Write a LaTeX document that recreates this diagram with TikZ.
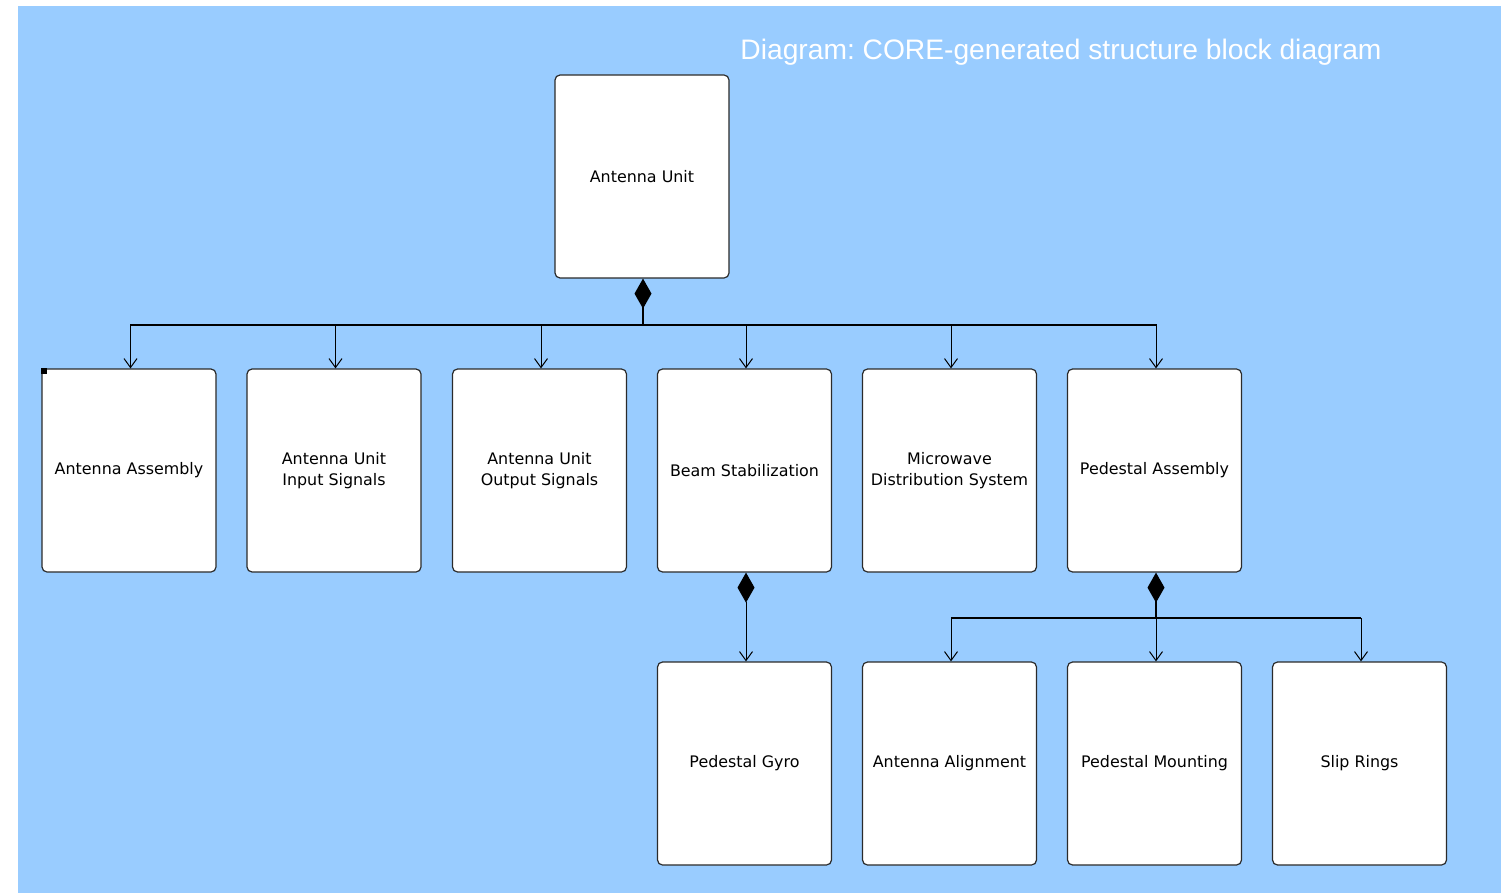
\documentclass[tikz,border=0pt]{standalone}
\usepackage{fontspec}
\setmainfont{DejaVu Sans}
\newfontfamily\titlefont{Liberation Sans}
\usetikzlibrary{arrows.meta}
\definecolor{bg}{HTML}{99CCFF}
\definecolor{edge}{HTML}{2B2B2B}
\frenchspacing

\begin{document}
\begin{tikzpicture}[x=1pt, y=-1pt,
  block/.style={draw=edge, line width=1.2pt, fill=white, rounded corners=5pt,
    minimum width=174pt, minimum height=203pt, inner sep=0pt, align=center,
    font=\fontsize{15.9}{21}\selectfont},
  part/.style={line width=1.6pt, {Diamond[length=30pt,width=17pt]}-},
  sub/.style={line width=1pt, -{Straight Barb[length=9pt,width=13pt]}},
  partsub/.style={line width=1pt, {Diamond[length=30pt,width=17pt]}-{Straight Barb[length=9pt,width=13pt]}}]
\useasboundingbox (0,0) rectangle (1501,893);
\fill[bg] (18,6) rectangle (1501,893);

\node[text=white, font=\titlefont\fontsize{28.2}{33}\selectfont] (title) at (1061,52)
  {Diagram: CORE-generated structure block diagram};

% top
\node[block] (u) at (642,176.5) {Antenna Unit};

% first level
\node[block] (a) at (129,470.5) {Antenna Assembly};
\node[block] (b) at (334,470.5) {Antenna Unit\\Input Signals};
\node[block] (c) at (539.5,470.5) {Antenna Unit\\Output Signals};
\node[block] (d) at (744.5,470.5) {Beam Stabilization};
\node[block] (e) at (949.5,470.5) {Microwave\\Distribution System};
\node[block] (f) at (1154.5,470.5) {Pedestal Assembly};
\fill (a.north west) rectangle ++(6,6);

% second level
\node[block] (g) at (744.5,763.5) {Pedestal Gyro};
\node[block] (h) at (949.5,763.5) {Antenna Alignment};
\node[block] (i) at (1154.5,763.5) {Pedestal Mounting};
\node[block] (j) at (1359.5,763.5) {Slip Rings};

% composition
\coordinate (b1) at (643,325);
\draw[part] (u.south -| b1) -- (b1);
\draw[line width=1.6pt] ([xshift=1pt]a.north |- b1) -- ([xshift=2pt]f.north |- b1);
\foreach \n in {a,b,c,d,e,f}
  \draw[sub] ([xshift=1.5pt]\n.north |- b1) -- ([xshift=1.5pt]\n.north);

\draw[partsub] ([xshift=1.5pt]d.south) -- ([xshift=1.5pt]g.north);

\coordinate (b2) at (1156,618);
\draw[part, line width=1.2pt] (f.south -| b2) -- (b2);
\draw[line width=1.2pt] ([xshift=1.5pt]h.north |- b2) -- ([xshift=1.5pt]j.north |- b2);
\foreach \n in {h,i,j}
  \draw[sub] ([xshift=1.5pt]\n.north |- b2) -- ([xshift=1.5pt]\n.north);
\end{tikzpicture}
\end{document}
